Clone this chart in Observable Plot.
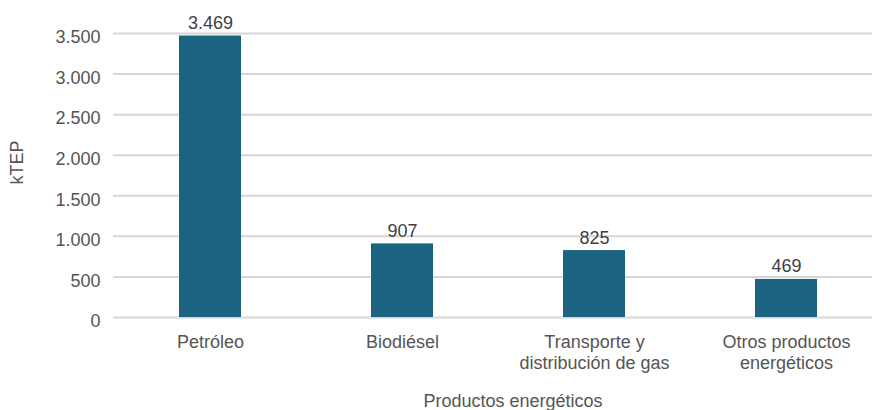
<!DOCTYPE html>
<html>
<head>
<meta charset="utf-8">
<script src="https://cdn.jsdelivr.net/npm/d3@7"></script>
<script src="https://cdn.jsdelivr.net/npm/@observablehq/plot@0.6"></script>
<style>
  html, body { margin: 0; padding: 0; background: #fff; }
  svg { display: block; }
</style>
</head>
<body>
<div id="chart"></div>
<script>
const categories = ["Petróleo", "Biodiésel", "Transporte y\ndistribución de gas", "Otros productos\nenergéticos"];
const values = [3469, 907, 825, 469];
const yTicks = [0, 500, 1000, 1500, 2000, 2500, 3000, 3500];
const yLabel = "kTEP";
const xLabel = "Productos energéticos";

const data = categories.map((c, i) => ({cat: c, value: values[i]}));
const locale = d3.formatLocale({decimal: ",", thousands: ".", grouping: [3], currency: ["", " €"]});
const fmt = locale.format(",");

const font = "'Liberation Sans', Arial, Helvetica, sans-serif";

const chart = Plot.plot({
  width: 872,
  height: 410,
  marginLeft: 113,
  marginRight: 0,
  marginTop: 33,
  marginBottom: 93,
  style: {fontFamily: font, fontSize: "18px", color: "#555", background: "#fff"},
  x: {domain: categories, range: [112.7, 883.5], paddingInner: 0.678, paddingOuter: 0.339, label: null},
  y: {domain: [0, 3500], label: null},
  marks: [
    Plot.ruleY(yTicks, {stroke: "#d6d6d6", strokeWidth: 2}),
    Plot.barY(data, {x: "cat", y: "value", fill: "#1c6382"}),
    Plot.text(data, {x: "cat", y: "value", text: d => fmt(d.value), lineAnchor: "bottom", dy: -7, fill: "#404040", fontSize: 18}),
    Plot.axisY(yTicks, {tickSize: 0, tickPadding: 13, tickFormat: fmt, label: null, dy: 4, fill: "#555", fontSize: 18}),
    Plot.axisX({tickSize: 0, tickPadding: 15, label: null, fill: "#555", fontSize: 18, lineHeight: 1.2}),
    Plot.text([yLabel], {frameAnchor: "left", rotate: -90, dx: -96, dy: 9, fill: "#555", fontSize: 18, lineAnchor: "middle"}),
    Plot.text([xLabel], {frameAnchor: "bottom", dx: 20, dy: 89, fill: "#555", fontSize: 18, lineAnchor: "bottom"})
  ]
});
document.getElementById("chart").appendChild(chart);
</script>
</body>
</html>
